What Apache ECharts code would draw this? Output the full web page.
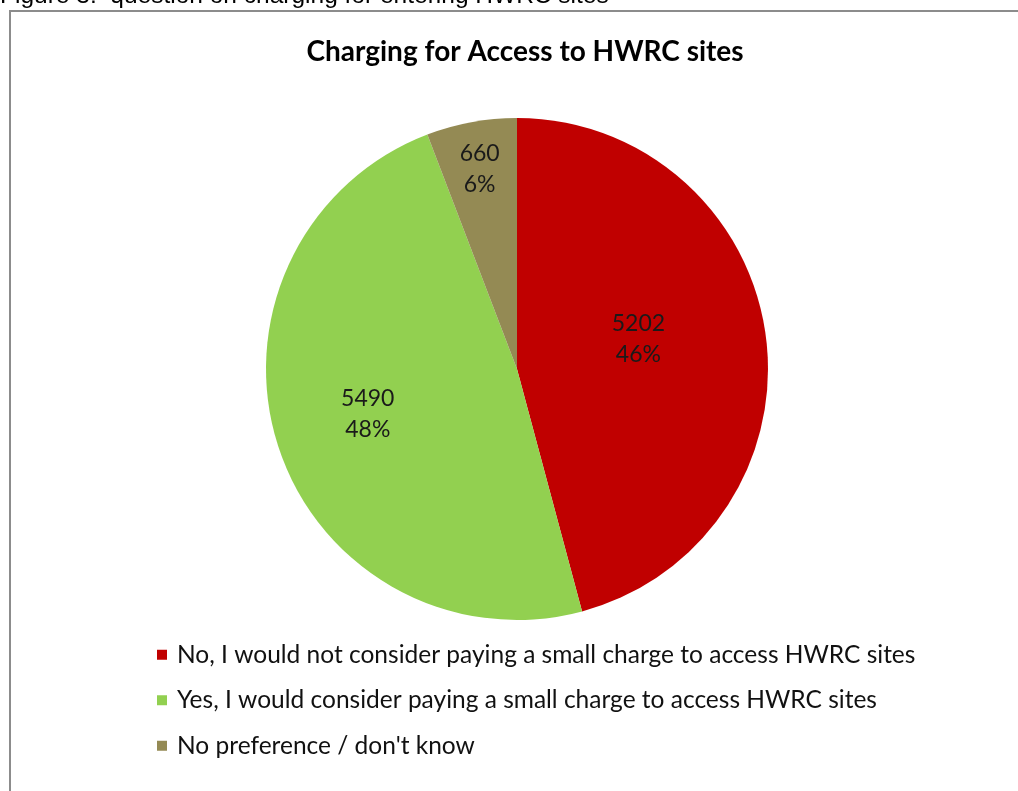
<!DOCTYPE html>
<html>
<head>
<meta charset="utf-8">
<script src="https://cdn.jsdelivr.net/npm/echarts@6/dist/echarts.min.js"></script>
<style>
  html, body { margin: 0; padding: 0; background: #fff; }
  #chart { width: 1018px; height: 791px; }
</style>
</head>
<body>
<div id="chart"></div>
<script>
// answers to the HWRC charging question
const categories = [
  "No, I would not consider paying a small charge to access HWRC sites",
  "Yes, I would consider paying a small charge to access HWRC sites",
  "No preference / don't know"
];
const responses = [5202, 5490, 660];
const colors = ["#C00000", "#92D050", "#948A54"];

// Excel "best fit" nudges for the inside labels
const labelNudge = [[-6, -13], [-27, 5], [-14, -74]];

const chart = echarts.init(document.getElementById("chart"));

chart.setOption({
  animation: false,
  title: {
    text: "Charging for Access to HWRC sites",
    left: 520,
    textAlign: "center",
    top: 33,
    textStyle: {
      fontFamily: "Lato",
      fontWeight: "bold",
      fontSize: 28,
      color: "#000"
    }
  },
  legend: {
    orient: "vertical",
    left: 152,
    top: 637,
    icon: "rect",
    itemWidth: 10,
    itemHeight: 10,
    itemGap: 20,
    selectedMode: false,
    textStyle: {
      fontFamily: "Lato",
      fontSize: 24.5,
      lineHeight: 25.5,
      color: "#111",
      padding: [0, 0, 0, 5]
    },
    data: categories
  },
  graphic: [
    {
      type: "rect",
      shape: { x: 10, y: 11, width: 1030, height: 800 },
      style: { fill: null, stroke: "#8c8c8c", lineWidth: 2 }
    },
    {
      type: "text",
      left: 0,
      top: -16,
      style: {
        text: "Figure 3:  question on charging for entering HWRC sites",
        font: "24.5px 'Liberation Sans'",
        fill: "#000"
      }
    }
  ],
  series: [
    {
      type: "pie",
      center: [517, 369],
      radius: 251,
      startAngle: 90,
      clockwise: true,
      percentPrecision: 0,
      color: colors,
      label: {
        position: "inside",
        formatter: "{c}\n{d}%",
        fontFamily: "Lato",
        fontSize: 23,
        lineHeight: 31,
        color: "#1a1a1a"
      },
      labelLine: { show: false },
      labelLayout: function (params) {
        const n = labelNudge[params.dataIndex];
        return { dx: n[0], dy: n[1] };
      },
      emphasis: { disabled: true },
      itemStyle: { borderWidth: 0 },
      data: categories.map((name, i) => ({ name: name, value: responses[i] }))
    }
  ]
});
</script>
</body>
</html>
